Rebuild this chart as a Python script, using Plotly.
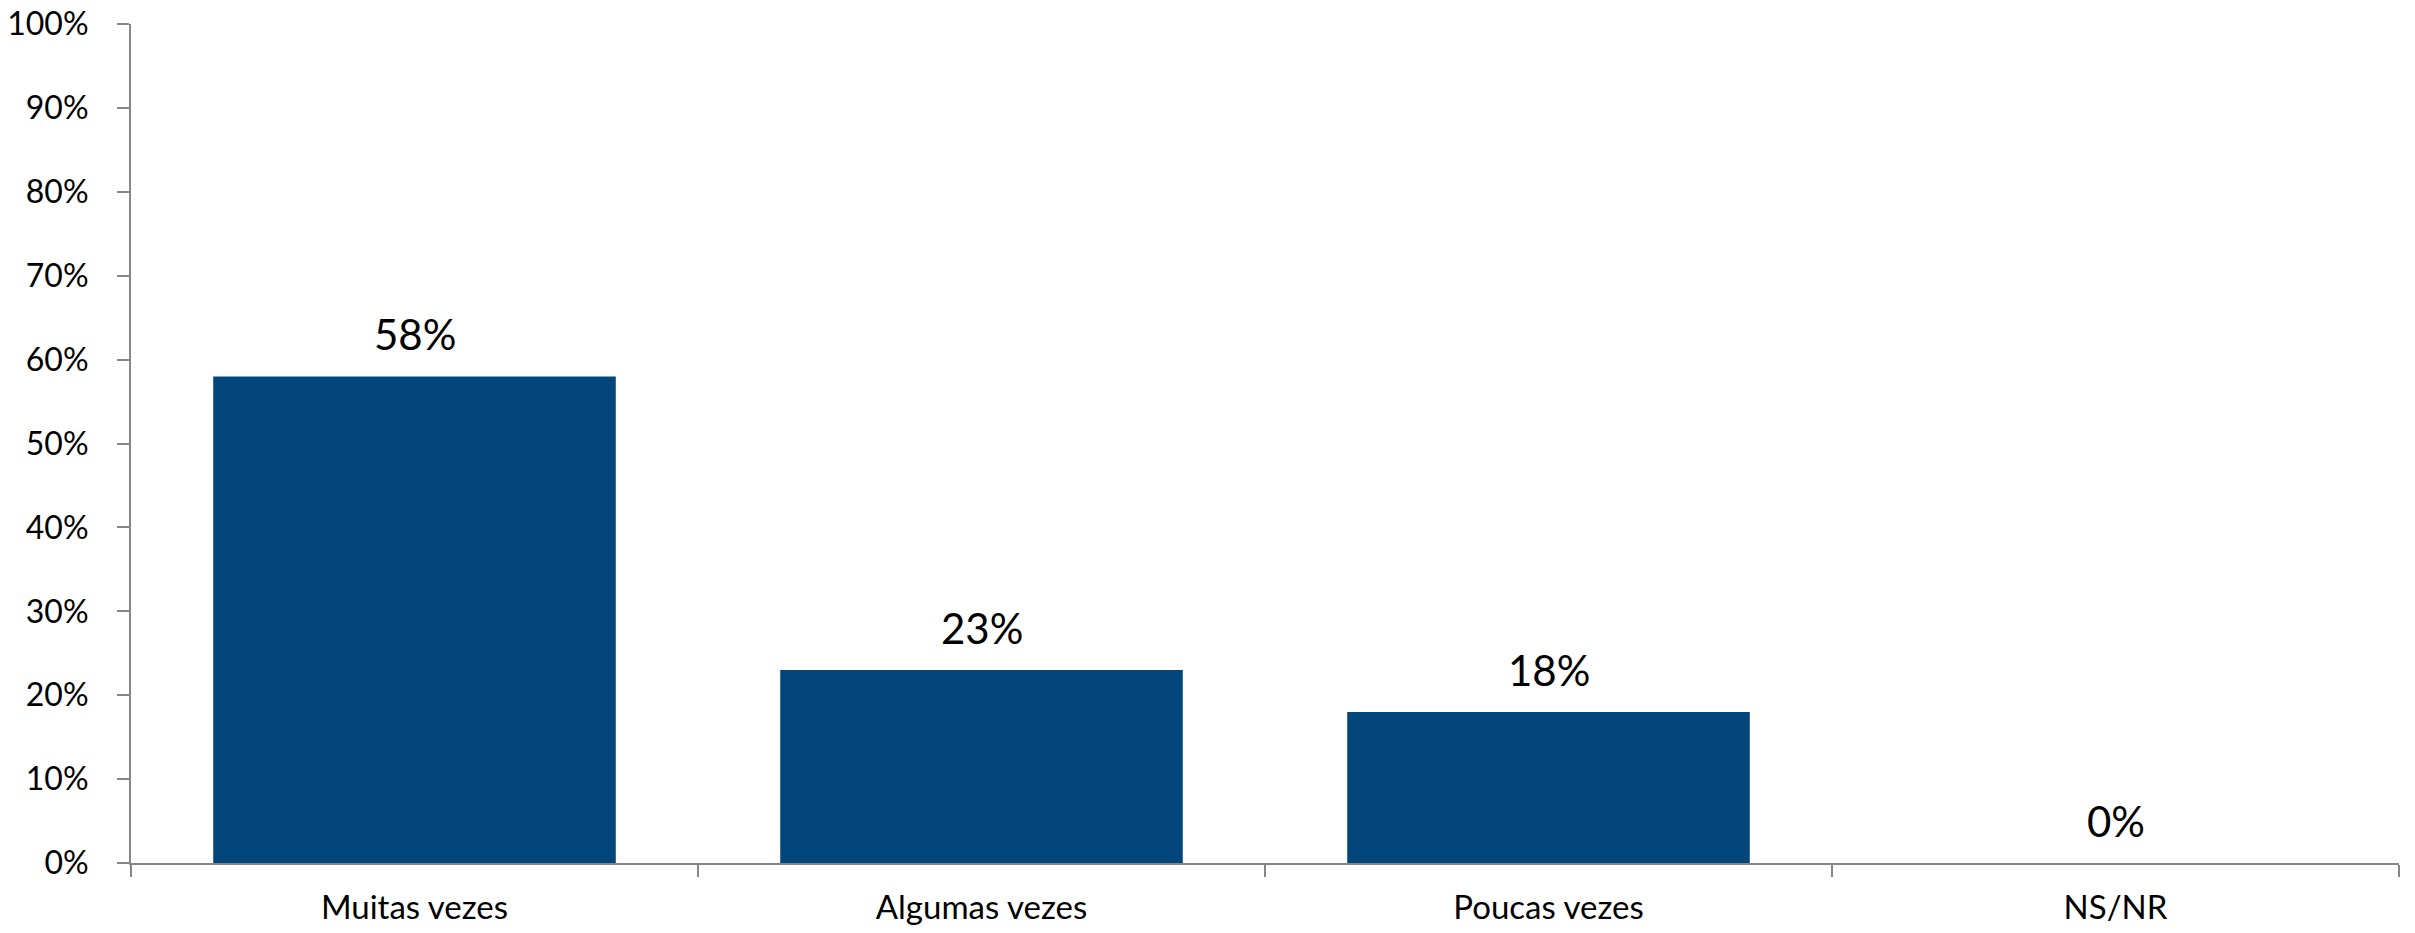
import plotly.graph_objects as go

categories = ["Muitas vezes", "Algumas vezes", "Poucas vezes", "NS/NR"]
values = [0.58, 0.23, 0.18, 0.0]

fig = go.Figure(
    go.Bar(
        x=categories,
        y=values,
        marker=dict(color="#03467C", line=dict(width=0)),
        hoverinfo="x+y",
    )
)

for cat, val in zip(categories, values):
    fig.add_annotation(
        x=cat,
        y=val,
        text=f"{val:.0%}",
        showarrow=False,
        yanchor="bottom",
        yshift=15,
        font=dict(family="Lato", size=42, color="#000000"),
    )

fig.update_layout(
    width=2415,
    height=933,
    margin=dict(l=131, r=16, t=24, b=70, autoexpand=False),
    paper_bgcolor="white",
    plot_bgcolor="white",
    bargap=0.29,
    showlegend=False,
    font=dict(family="Lato", color="#000000"),
)

fig.update_xaxes(
    automargin=False,
    showline=True,
    linecolor="#868686",
    linewidth=2,
    ticks="outside",
    tickson="boundaries",
    ticklen=12,
    tickwidth=2,
    tickcolor="#868686",
    tickfont=dict(family="Lato", size=33, color="#000000"),
    ticklabelstandoff=14,
    ticklabeloverflow="allow",
    showgrid=False,
)

fig.update_yaxes(
    automargin=False,
    range=[0, 1],
    dtick=0.1,
    tickformat=".0%",
    showline=True,
    linecolor="#868686",
    linewidth=2,
    ticks="outside",
    ticklen=12,
    tickwidth=2,
    tickcolor="#868686",
    tickfont=dict(family="Lato", size=32, color="#000000"),
    ticklabelstandoff=22,
    ticklabeloverflow="allow",
    showgrid=False,
    zeroline=False,
)

fig.write_html(
    "out.html",
    config={"displayModeBar": False},
    post_script="document.body.style.margin='0';document.body.style.overflow='hidden';",
)
